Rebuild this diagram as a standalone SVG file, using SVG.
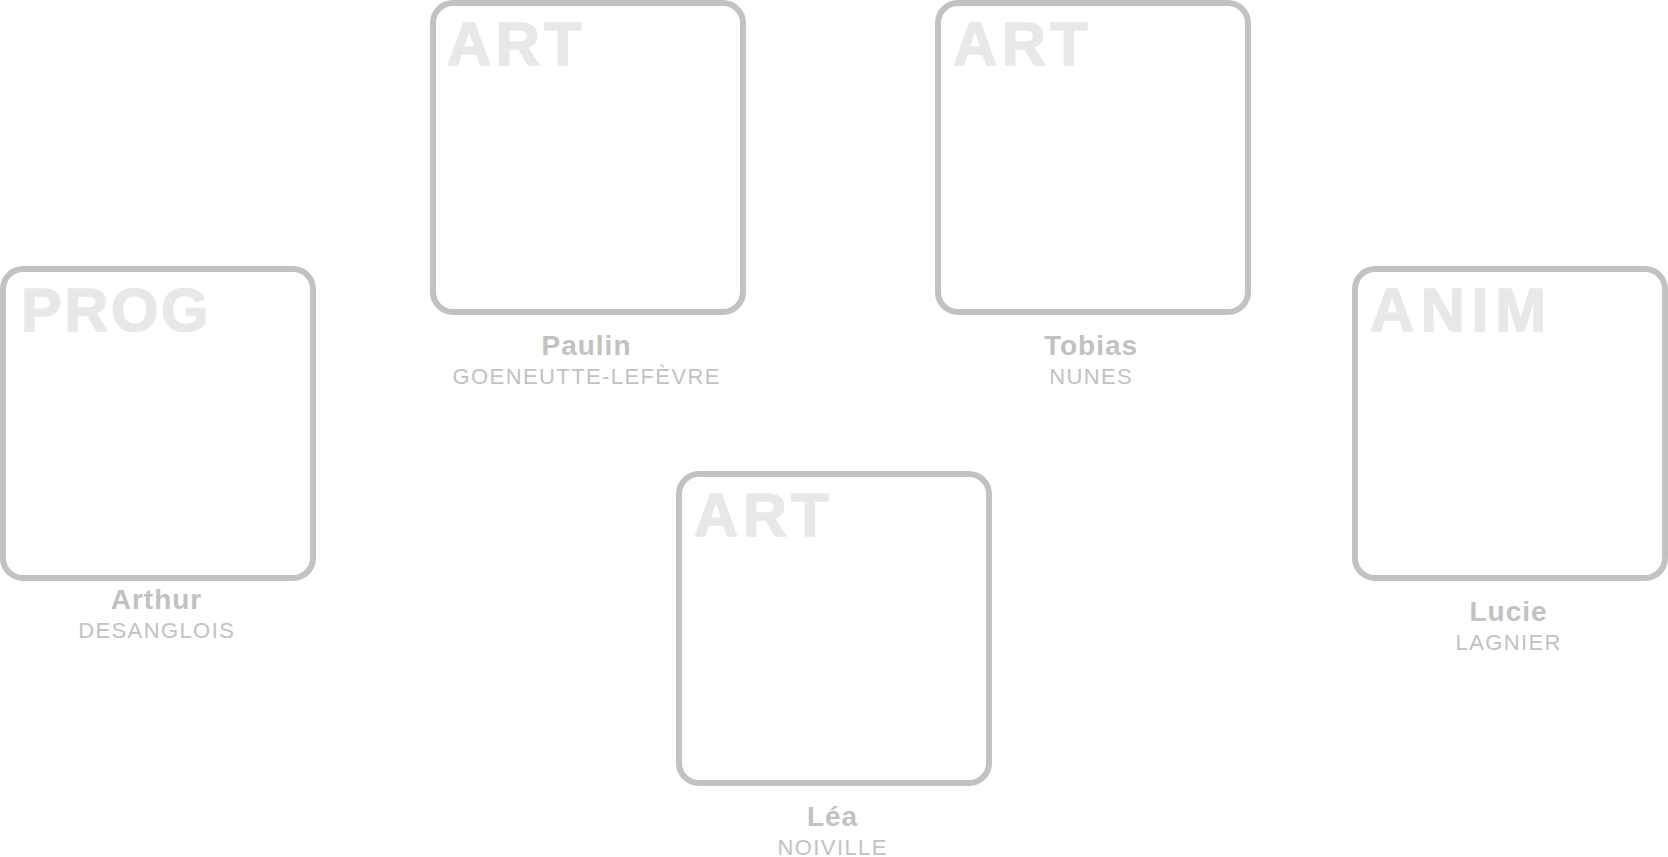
<svg xmlns="http://www.w3.org/2000/svg" width="1668" height="857" viewBox="0 0 1668 857">
<style>
.box{fill:#ffffff;stroke:#c2c2c2;stroke-width:6}
.tag{font-family:"Liberation Sans",Arial,sans-serif;font-weight:bold;font-size:61px;fill:#e8e8e8;stroke:#e8e8e8;stroke-width:1.6px;stroke-linejoin:round}
.name{font-family:"Liberation Sans",Arial,sans-serif;font-weight:bold;font-size:28px;fill:#c2c2c2;text-anchor:middle;letter-spacing:1px}
.sur{font-family:"Liberation Sans",Arial,sans-serif;font-size:22px;fill:#c2c2c2;text-anchor:middle;letter-spacing:1.4px}
</style>
<rect width="1668" height="857" fill="#ffffff"/>
<g id="connectors"></g>
<g id="node-arthur">
<rect class="box" x="3" y="269" width="310" height="309" rx="20"/>
<text class="tag" x="21" y="331" style="letter-spacing:2.6px">PROG</text>
<text class="name" x="156.5" y="609">Arthur</text>
<text class="sur" x="156.7" y="638">DESANGLOIS</text>
</g>
<g id="node-paulin">
<rect class="box" x="433" y="3" width="310" height="309" rx="20"/>
<text class="tag" x="447" y="65" style="letter-spacing:4.6px">ART</text>
<text class="name" x="586.5" y="355">Paulin</text>
<text class="sur" x="586.7" y="384">GOENEUTTE-LEFÈVRE</text>
</g>
<g id="node-tobias">
<rect class="box" x="938" y="3" width="310" height="309" rx="20"/>
<text class="tag" x="953" y="65" style="letter-spacing:4.6px">ART</text>
<text class="name" x="1091" y="355">Tobias</text>
<text class="sur" x="1091.2" y="384">NUNES</text>
</g>
<g id="node-lea">
<rect class="box" x="679" y="474" width="310" height="309" rx="20"/>
<text class="tag" x="694" y="536" style="letter-spacing:4.6px">ART</text>
<text class="name" x="832.5" y="826">Léa</text>
<text class="sur" x="832.7" y="855">NOIVILLE</text>
</g>
<g id="node-lucie">
<rect class="box" x="1355" y="269" width="310" height="309" rx="20"/>
<text class="tag" x="1370" y="331" style="letter-spacing:6.7px">ANIM</text>
<text class="name" x="1508.5" y="621">Lucie</text>
<text class="sur" x="1508.7" y="650">LAGNIER</text>
</g>
</svg>
